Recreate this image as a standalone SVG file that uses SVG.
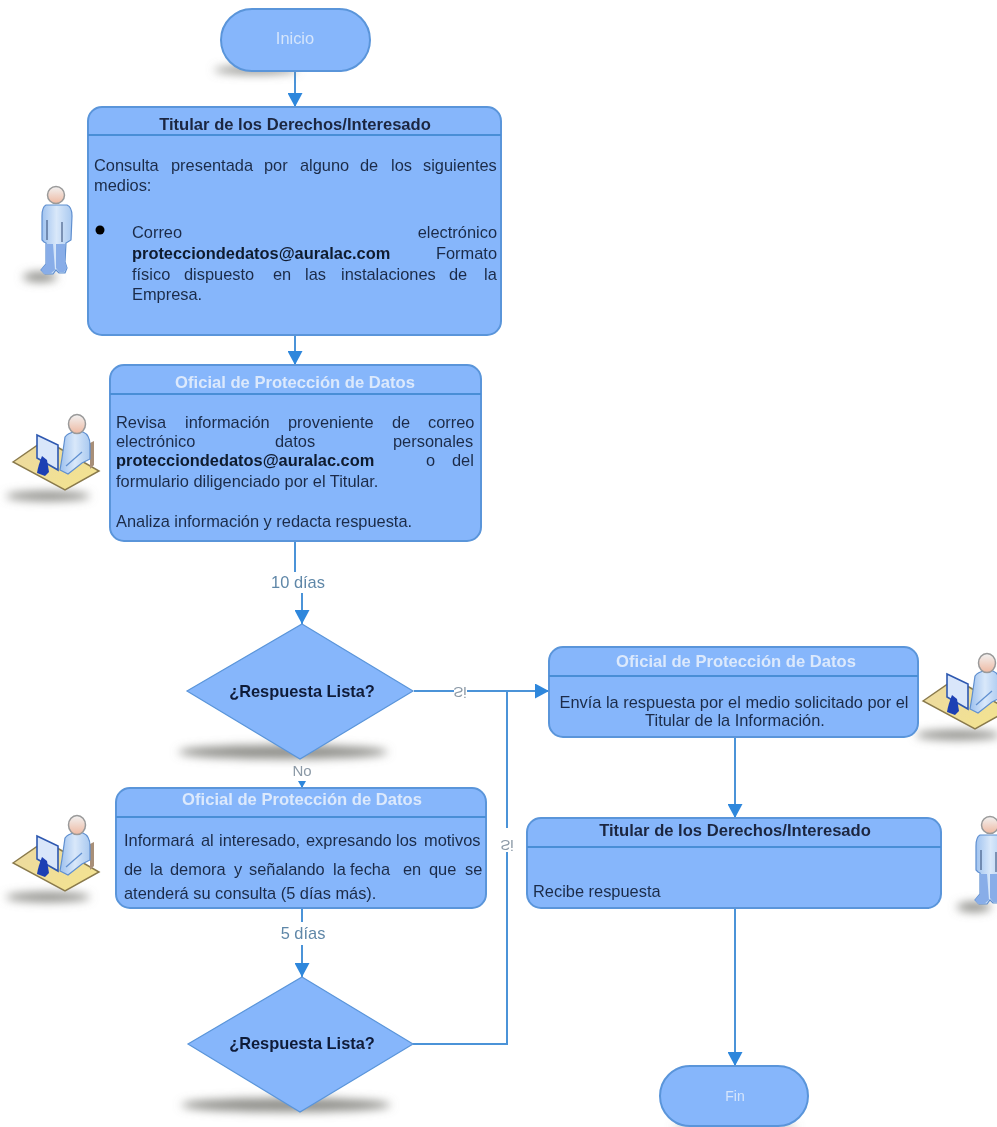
<svg xmlns="http://www.w3.org/2000/svg" xmlns:xlink="http://www.w3.org/1999/xlink" width="997" height="1127" viewBox="0 0 997 1127">
<style>
text{font-family:"Liberation Sans",Arial,sans-serif;font-size:16.4px;fill:#1c2c48}
.n{fill:#86b6fb;stroke:#5a95da;stroke-width:2}
.d{fill:none;stroke:#4a8ed6;stroke-width:2}
.c{fill:none;stroke:#4b93d8;stroke-width:2}
.b{font-weight:bold;fill:#111a2e}
.t{text-anchor:middle;font-size:16.6px;font-weight:bold;fill:#1c2640}
.w{text-anchor:middle;font-size:16.6px;font-weight:bold;fill:#dce9fc}
.l{fill:#5f87a8;text-anchor:middle;font-size:16.4px}
.g{fill:#8b99a6;font-size:15px;text-anchor:middle}
.q{font-size:16.4px;font-weight:bold;text-anchor:middle;fill:#111a38}
.s{fill:#8f8f8a}
</style>
<defs>
<filter id="soft" filterUnits="userSpaceOnUse" x="0" y="0" width="997" height="1127"><feGaussianBlur stdDeviation="0.45"/></filter>
<filter id="blur" x="-40%" y="-200%" width="180%" height="500%"><feGaussianBlur stdDeviation="5"/></filter>
<marker id="ah" markerUnits="userSpaceOnUse" markerWidth="15" markerHeight="15" refX="14" refY="7.5" orient="auto"><path d="M0 0L14 7.5L0 15Z" fill="#2f87dc"/></marker>
<marker id="as" markerUnits="userSpaceOnUse" markerWidth="8" markerHeight="8" refX="7" refY="4" orient="auto"><path d="M0 0L7 4L0 8Z" fill="#2f87dc"/></marker>
<linearGradient id="skin" x1="0" y1="0" x2="0" y2="1"><stop offset="0" stop-color="#f2f2f2"/><stop offset="1" stop-color="#eeb9a2"/></linearGradient>
<linearGradient id="body" x1="0" y1="0" x2="1" y2="0"><stop offset="0" stop-color="#9cc0ee"/><stop offset=".5" stop-color="#d9e8fa"/><stop offset="1" stop-color="#a9c9f0"/></linearGradient>
<linearGradient id="desk" x1="0" y1="0" x2="1" y2="1"><stop offset="0" stop-color="#ecd9a2"/><stop offset="1" stop-color="#f4e48e"/></linearGradient>
<g id="person">
<ellipse class="s" cx="40" cy="277" rx="17" ry="5" filter="url(#blur)"/>
<path d="M46 205Q42 207 42 216V240L44 242L46 243V264L41 270L45 274H53L56 270L59 273H65L67 268L65 262L66 243L71 240L72 216Q72 207 67 205Z" fill="url(#body)" stroke="#5f8fd0" stroke-width="1.2"/>
<path d="M46 244L53 244L55 270L50 274H44L41 270L46 264ZM56 244H65L65 262L67 268L64 272H59L56 268Z" fill="#88ade8"/>
<path d="M47 220V240M62 222V242" fill="none" stroke="#2f4670" stroke-width="1"/>
<circle cx="56" cy="195" r="8.5" fill="url(#skin)" stroke="#9a9a9a" stroke-width="1.5"/>
</g>
<g id="worker">
<ellipse class="s" cx="48" cy="496" rx="42" ry="5" filter="url(#blur)"/>
<path d="M13 462L45 440L99 471L65 490Z" fill="url(#desk)" stroke="#8a7a4c" stroke-width="1.5"/>
<path d="M90 443L94 441V465L90 469Z" fill="#a88f78"/>
<path d="M65 437Q68 433 74 432H83Q90 435 90 445V459L82 463L68 474L60 470L62 458Z" fill="url(#body)" stroke="#5f8fd0" stroke-width="1.2"/>
<path d="M82 452L66 466" fill="none" stroke="#5f8fd0" stroke-width="1.2"/>
<path d="M37 435L58 445V470L37 458Z" fill="#d9e6fa" stroke="#2e58b0" stroke-width="1.6"/>
<path d="M42 456L47 460L49 472L45 476L37 473Q38 466 42 456Z" fill="#1d3fb4"/>
<ellipse cx="77" cy="424" rx="8.5" ry="9.5" fill="url(#skin)" stroke="#9a9a9a" stroke-width="1.5"/>
</g>
</defs>
<rect width="997" height="1127" fill="#fff"/>
<g filter="url(#soft)">
<g id="icons">
<use href="#person"/>
<use href="#person" x="934" y="630"/>
<use href="#worker"/>
<use href="#worker" x="0" y="401"/>
<use href="#worker" x="910" y="239"/>
</g>
<g id="connectors">
<path class="c" d="M295 71V107" marker-end="url(#ah)"/>
<path class="c" d="M295 335V365" marker-end="url(#ah)"/>
<path class="c" d="M295 541V572"/>
<path class="c" d="M302 593V624" marker-end="url(#ah)"/>
<path class="c" d="M414 691H454M467 691H549" marker-end="url(#ah)"/>
<path class="c" d="M507 691V828M507 852V1044H413"/>
<path class="c" d="M302 781V788" marker-end="url(#as)"/>
<path class="c" d="M302 908V922"/>
<path class="c" d="M302 945V977" marker-end="url(#ah)"/>
<path class="c" d="M735 737V818" marker-end="url(#ah)"/>
<path class="c" d="M735 908V1066" marker-end="url(#ah)"/>
<text class="l" x="298" y="588">10 días</text>
<text class="l" x="303" y="939">5 días</text>
<text class="g" x="302" y="776">No</text>
<text class="g" transform="translate(460 687) scale(1 -1)">Si</text>
<text class="g" transform="translate(507 840) scale(1 -1)">Si</text>
</g>
<g id="inicio">
<ellipse class="s" cx="256" cy="70" rx="42" ry="4" filter="url(#blur)"/>
<rect class="n" x="221" y="9" width="149" height="62" rx="31"/>
<text x="295" y="44" text-anchor="middle" style="fill:#d5e5fb">Inicio</text>
</g>
<g id="titular-1">
<rect class="n" x="88" y="107" width="413" height="228" rx="14"/>
<path class="d" d="M88 135H501"/>
<text class="t" x="295" y="130">Titular de los Derechos/Interesado</text>
<text y="171"><tspan x="94">Consulta</tspan><tspan x="171">presentada</tspan><tspan x="264">por</tspan><tspan x="300">alguno</tspan><tspan x="360">de</tspan><tspan x="391">los</tspan><tspan x="423">siguientes</tspan></text>
<text x="94" y="191">medios:</text>
<circle cx="100" cy="230" r="4.5" fill="#000"/>
<text x="132" y="238">Correo</text>
<text x="497" y="238" text-anchor="end">electrónico</text>
<text class="b" x="132" y="259">protecciondedatos@auralac.com</text>
<text x="497" y="259" text-anchor="end">Formato</text>
<text y="280"><tspan x="132">físico</tspan><tspan x="184">dispuesto</tspan><tspan x="273">en</tspan><tspan x="305">las</tspan><tspan x="341">instalaciones</tspan><tspan x="449">de</tspan><tspan x="484">la</tspan></text>
<text x="132" y="300">Empresa.</text>
</g>
<g id="oficial-1">
<rect class="n" x="110" y="365" width="371" height="176" rx="14"/>
<path class="d" d="M110 394H481"/>
<text class="w" x="295" y="388">Oficial de Protección de Datos</text>
<text y="428"><tspan x="116">Revisa</tspan><tspan x="185">información</tspan><tspan x="288">proveniente</tspan><tspan x="392">de</tspan><tspan x="428">correo</tspan></text>
<text y="447"><tspan x="116">electrónico</tspan><tspan x="275">datos</tspan><tspan x="393">personales</tspan></text>
<text class="b" x="116" y="466">protecciondedatos@auralac.com</text>
<text y="466"><tspan x="426">o</tspan><tspan x="452">del</tspan></text>
<text x="116" y="487">formulario diligenciado por el Titular.</text>
<text x="116" y="527">Analiza información y redacta respuesta.</text>
</g>
<g id="decision-1">
<ellipse class="s" cx="283" cy="752" rx="105" ry="7" filter="url(#blur)"/>
<path class="n" style="stroke-width:1.2" d="M302 624L413 691L300 759L187 691Z"/>
<text class="q" x="302" y="697">¿Respuesta Lista?</text>
</g>
<g id="oficial-2">
<rect class="n" x="116" y="788" width="370" height="120" rx="14"/>
<path class="d" d="M116 817H486"/>
<text class="w" x="302" y="805">Oficial de Protección de Datos</text>
<text y="846"><tspan x="124">Informará</tspan><tspan x="201">al</tspan><tspan x="219">interesado,</tspan><tspan x="306">expresando</tspan><tspan x="396">los</tspan><tspan x="424">motivos</tspan></text>
<text y="875"><tspan x="124">de</tspan><tspan x="150">la</tspan><tspan x="170">demora</tspan><tspan x="234">y</tspan><tspan x="249">señalando</tspan><tspan x="333">la</tspan><tspan x="350">fecha</tspan><tspan x="403">en</tspan><tspan x="429">que</tspan><tspan x="465">se</tspan></text>
<text x="124" y="899">atenderá su consulta (5 días más).</text>
</g>
<g id="decision-2">
<ellipse class="s" cx="286" cy="1105" rx="105" ry="7" filter="url(#blur)"/>
<path class="n" style="stroke-width:1.2" d="M302 977L413 1044L300 1112L188 1044Z"/>
<text class="q" x="302" y="1049">¿Respuesta Lista?</text>
</g>
<g id="oficial-3">
<rect class="n" x="549" y="647" width="369" height="90" rx="14"/>
<path class="d" d="M549 676H918"/>
<text class="w" x="736" y="667">Oficial de Protección de Datos</text>
<text x="734" y="708" text-anchor="middle">Envía la respuesta por el medio solicitado por el</text>
<text x="735" y="726" text-anchor="middle">Titular de la Información.</text>
</g>
<g id="titular-2">
<rect class="n" x="527" y="818" width="414" height="90" rx="14"/>
<path class="d" d="M527 847H941"/>
<text class="t" x="735" y="836">Titular de los Derechos/Interesado</text>
<text x="533" y="897">Recibe respuesta</text>
</g>
<g id="fin">
<ellipse class="s" cx="735" cy="1127" rx="62" ry="3" filter="url(#blur)"/>
<rect class="n" x="660" y="1066" width="148" height="60" rx="30"/>
<text x="735" y="1101" text-anchor="middle" style="fill:#d5e5fb;font-size:14px">Fin</text>
</g>
</g>
</svg>
